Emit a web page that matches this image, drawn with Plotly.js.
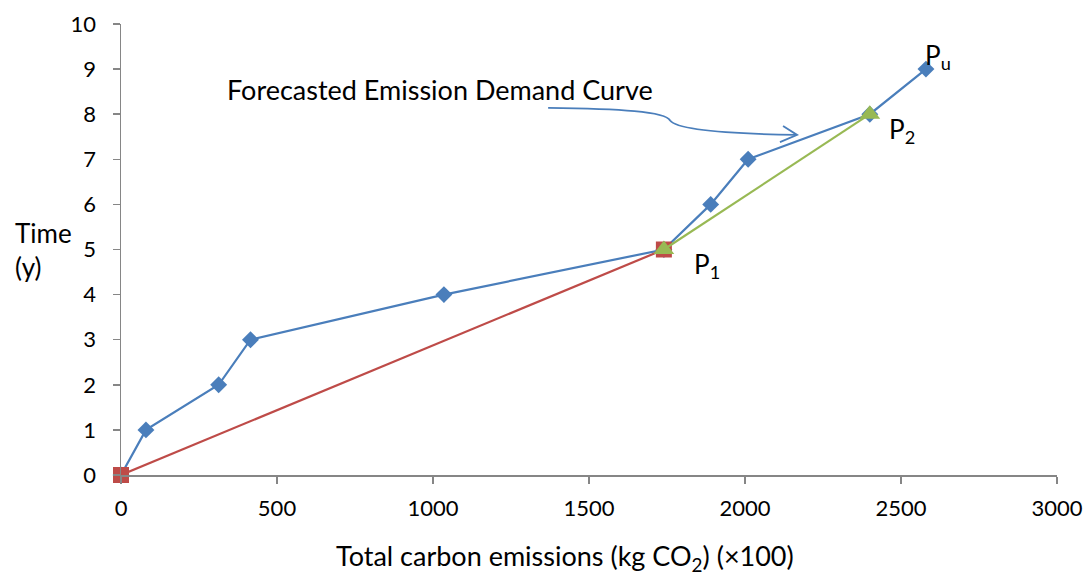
<!DOCTYPE html>
<html><head><meta charset="utf-8">
<script src="https://cdn.plot.ly/plotly-3.0.1.min.js"></script>
<style>body{margin:0;background:#fff}</style>
</head><body>
<div id="chart" style="width:1091px;height:576px"></div>
<script>
const demandX = [0, 80, 313, 415, 1035, 1740, 1890, 2010, 2400, 2580];
const demandY = [0, 1, 2, 3, 4, 5, 6, 7, 8, 9];
const redX = [0, 1740];
const redY = [0, 5];
const greenX = [1740, 2400];
const greenY = [5, 8];
const xTicks = [0, 500, 1000, 1500, 2000, 2500, 3000];
const yTicks = [0,1,2,3,4,5,6,7,8,9,10];
const FONT = 'Lato, "Open Sans", sans-serif';

const traces = [
  {x: demandX, y: demandY, mode: 'lines+markers', type: 'scatter', cliponaxis: false,
   line: {color: '#4A7EBB', width: 2.2}, marker: {symbol: 'diamond', size: 13, color: '#4A7EBB'}},
  {x: redX, y: redY, mode: 'lines+markers', type: 'scatter', cliponaxis: false,
   line: {color: '#BE4B48', width: 2.2}, marker: {symbol: 'square', size: 16, color: '#BE4B48'}},
  {x: greenX, y: greenY, mode: 'lines+markers', type: 'scatter', cliponaxis: false,
   line: {color: '#98B954', width: 2.2}, marker: {symbol: 'triangle-up', size: 18, color: '#98B954'}}
];

const layout = {
  width: 1091, height: 576,
  margin: {l: 121, r: 34, t: 24, b: 101},
  showlegend: false,
  paper_bgcolor: '#fff', plot_bgcolor: '#fff',
  font: {family: FONT, size: 22, color: '#000'},
  xaxis: {range: [0, 3000], tickvals: xTicks, showgrid: false, zeroline: false,
    showline: true, linecolor: '#868686', linewidth: 1.5, ticks: 'outside', ticklen: 7,
    tickcolor: '#868686', tickwidth: 1.5, ticklabelstandoff: 6},
  yaxis: {range: [0, 10], tickvals: yTicks, showgrid: false, zeroline: false,
    showline: true, linecolor: '#868686', linewidth: 1.5, ticks: 'outside', ticklen: 7,
    tickcolor: '#868686', tickwidth: 1.5, ticklabelstandoff: 12},
  annotations: [
    {xref: 'paper', yref: 'paper', x: -0.115, y: 0.5, xanchor: 'left', yanchor: 'middle', align: 'left',
     text: 'Time<br>(y)', showarrow: false, font: {size: 26}},
    {xref: 'paper', yref: 'paper', x: (565 - 121) / 936, y: -0.183, xanchor: 'center', yanchor: 'middle',
     text: 'Total carbon emissions (kg CO<sub>2</sub>) (×100)', showarrow: false, font: {size: 27}},
    {x: 333, y: 8.54, xanchor: 'left', yanchor: 'middle', text: 'Forecasted Emission Demand Curve',
     showarrow: false, font: {size: 27}},
    {x: 1830, y: 4.65, xanchor: 'left', yanchor: 'middle', text: 'P<sub>1</sub>', showarrow: false, font: {size: 26}},
    {x: 2455, y: 7.63, xanchor: 'left', yanchor: 'middle', text: 'P<sub>2</sub>', showarrow: false, font: {size: 26}},
    {x: 2570, y: 9.28, xanchor: 'left', yanchor: 'middle', text: 'P<sub>u</sub>', showarrow: false, font: {size: 26}}
  ],
  shapes: [
    {type: 'path', xref: 'x', yref: 'y',
     path: 'M 1369,8.14 C 1600,8.12 1745,8.06 1760,7.86 C 1785,7.62 2000,7.56 2165,7.54',
     line: {color: '#4A7EBB', width: 1.8}},
    {type: 'path', xref: 'x', yref: 'y',
     path: 'M 2122,7.74 L 2167,7.54 L 2112,7.38',
     line: {color: '#4A7EBB', width: 1.8}}
  ]
};
Plotly.newPlot('chart', traces, layout, {displayModeBar: false, staticPlot: true});
</script>
</body></html>
